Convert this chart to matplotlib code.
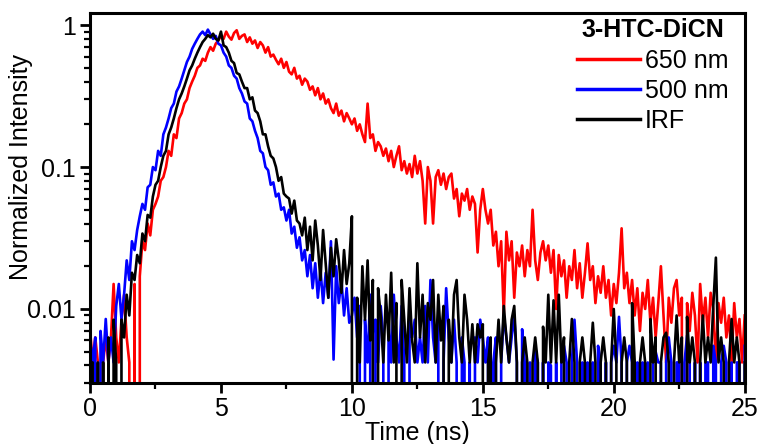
import numpy as np
import matplotlib
matplotlib.use("Agg")
import matplotlib.pyplot as plt
from matplotlib.ticker import FixedLocator, LogLocator, NullFormatter

# time channels (ns), 0.1 ns bins
time_ns = np.round(np.arange(251) * 0.1, 1)

# normalized decay traces (0 = zero counts)
irf = [
    0.0042, 0.0042, 0, 0.0042, 0, 0.0042, 0, 0.0063, 0, 0.0084,
    0.0042, 0, 0.0084, 0.0063, 0.0126, 0.009, 0.018, 0.016, 0.024, 0.021,
    0.034, 0.03, 0.046, 0.044, 0.062, 0.075, 0.08, 0.1, 0.12, 0.13,
    0.17, 0.19, 0.22, 0.26, 0.3, 0.33, 0.37, 0.42, 0.48, 0.52,
    0.58, 0.64, 0.7, 0.76, 0.8, 0.85, 0.82, 0.87, 0.8, 0.78,
    0.9, 0.72, 0.7, 0.64, 0.56, 0.54, 0.46, 0.45, 0.4, 0.36,
    0.36, 0.3, 0.31, 0.25, 0.24, 0.21, 0.17, 0.17, 0.14, 0.12,
    0.115, 0.1, 0.08, 0.085, 0.065, 0.062, 0.06, 0.047, 0.058, 0.042,
    0.04, 0.033, 0.044, 0.026, 0.038, 0.022, 0.042, 0.028, 0.016, 0.036,
    0.021, 0.012, 0.027, 0.017, 0.031, 0.022, 0.013, 0.026, 0.015, 0.021,
    0.045, 0, 0.012, 0.0042, 0.02, 0.0084, 0.022, 0.006, 0.016, 0,
    0.014, 0.009, 0.0042, 0.0126, 0.006, 0.018, 0.0042, 0.011, 0, 0.016,
    0.0084, 0.0042, 0.014, 0.006, 0.0042, 0.021, 0.0063, 0.0126, 0.0042, 0.011,
    0.0084, 0.016, 0.0042, 0.0126, 0.006, 0.0105, 0, 0.0084, 0.0042, 0.0126,
    0.016, 0.0063, 0.0042, 0.0126, 0.0084, 0.0042, 0.0078, 0.0042, 0.0078, 0.0063,
    0.0078, 0, 0.0042, 0.0063, 0, 0.0042, 0.0084, 0.0042, 0.0105, 0.0063,
    0.0042, 0.0084, 0.0105, 0.0042, 0, 0.0042, 0.0063, 0.0042, 0, 0.0042,
    0.0063, 0.0042, 0, 0.0075, 0.0042, 0.0126, 0.0042, 0.0115, 0.0042, 0.0126,
    0.0042, 0.0063, 0, 0.0042, 0.0085, 0.0042, 0, 0.0042, 0.0063, 0.0042,
    0, 0.0042, 0.008, 0.0042, 0, 0.0042, 0.0063, 0.0042, 0, 0.0042,
    0.01, 0.0042, 0, 0.0042, 0.0063, 0.0042, 0, 0.011, 0.0042, 0,
    0.0042, 0.0063, 0.0042, 0, 0.0085, 0.0042, 0.0063, 0, 0.0042, 0.0063,
    0.0068, 0.0042, 0, 0.0042, 0.009, 0.0042, 0.0063, 0, 0.0088, 0.0042,
    0.0063, 0.0042, 0, 0.0042, 0.009, 0.0042, 0.0063, 0.0042, 0.0105, 0.023,
    0.0042, 0.0063, 0.0042, 0, 0.0042, 0.0085, 0.0042, 0.0063, 0.0042, 0,
    0.0042,
]

em_500 = [
    0.0063, 0.0042, 0.0063, 0, 0.007, 0.0042, 0.0085, 0.0042, 0.0063, 0.0042,
    0.0105, 0.015, 0.0085, 0.0126, 0.022, 0.016, 0.03, 0.026, 0.036, 0.045,
    0.055, 0.05, 0.072, 0.075, 0.1, 0.095, 0.13, 0.12, 0.17, 0.19,
    0.22, 0.26, 0.28, 0.34, 0.37, 0.42, 0.48, 0.55, 0.6, 0.68,
    0.74, 0.8, 0.86, 0.9, 0.85, 0.93, 0.86, 0.8, 0.84, 0.74,
    0.72, 0.64, 0.6, 0.52, 0.5, 0.44, 0.42, 0.36, 0.33, 0.29,
    0.28, 0.22, 0.21, 0.18, 0.16, 0.13, 0.125, 0.1, 0.095, 0.075,
    0.078, 0.062, 0.065, 0.05, 0.052, 0.042, 0.05, 0.034, 0.038, 0.027,
    0.032, 0.022, 0.026, 0.017, 0.024, 0.014, 0.021, 0.012, 0.019, 0.011,
    0.018, 0.012, 0.03, 0.0044, 0.02, 0.011, 0.016, 0.009, 0.014, 0.008,
    0.009, 0.012, 0.0063, 0.0105, 0, 0.0084, 0.0042, 0.0126, 0, 0.0084,
    0.0042, 0.0105, 0.0063, 0, 0.0084, 0.0042, 0.0126, 0.0063, 0.0042, 0.0105,
    0.0042, 0, 0.0084, 0.0063, 0.0084, 0.0042, 0.0063, 0.0042, 0.0105, 0.0042,
    0.016, 0.0063, 0.0042, 0.0084, 0, 0.0042, 0.014, 0.0063, 0.0042, 0.0084,
    0.0042, 0, 0.0063, 0.0042, 0, 0.0042, 0, 0.0063, 0.0042, 0.0084,
    0.0063, 0.0042, 0.0063, 0, 0.0042, 0.0063, 0, 0.0042, 0.009, 0.0063,
    0.0042, 0.0063, 0.009, 0.0042, 0, 0.0072, 0.0042, 0, 0.0042, 0,
    0.005, 0.0042, 0, 0.0042, 0, 0.0042, 0.004, 0, 0.0042, 0,
    0.0042, 0.0055, 0.0042, 0, 0.0042, 0.0084, 0.0042, 0, 0.0042, 0,
    0.0042, 0, 0.0042, 0, 0.0055, 0.0042, 0, 0.0042, 0, 0.0042,
    0.0055, 0.0042, 0.0088, 0.0042, 0, 0.0042, 0.0055, 0.0042, 0, 0.0042,
    0, 0.0042, 0, 0.0042, 0, 0.0042, 0.005, 0.0042, 0.0042, 0,
    0.0042, 0.0063, 0.0042, 0, 0.0042, 0.0042, 0, 0.0042, 0.0065, 0.0042,
    0, 0.0042, 0, 0.0042, 0, 0.0042, 0.0042, 0, 0.0055, 0.0042,
    0, 0.0042, 0.0055, 0.0042, 0, 0.0042, 0, 0.0042, 0.0042, 0,
    0.0055,
]

em_650 = [
    0.0072, 0.0042, 0.0063, 0.0042, 0, 0.0042, 0.0063, 0.0042, 0.0063, 0.015,
    0.0063, 0.0042, 0.0084, 0.0126, 0.0063, 0.0042, 0, 0.015, 0, 0.017,
    0.03, 0.026, 0.04, 0.033, 0.05, 0.055, 0.062, 0.08, 0.085, 0.1,
    0.13, 0.12, 0.17, 0.16, 0.22, 0.24, 0.28, 0.3, 0.36, 0.4,
    0.44, 0.5, 0.52, 0.58, 0.56, 0.64, 0.7, 0.66, 0.74, 0.78,
    0.84, 0.8, 0.9, 0.83, 0.79, 0.88, 0.92, 0.8, 0.84, 0.86,
    0.76, 0.82, 0.74, 0.78, 0.69, 0.76, 0.72, 0.64, 0.7, 0.6,
    0.62, 0.57, 0.53, 0.58, 0.5, 0.55, 0.47, 0.45, 0.5, 0.42,
    0.44, 0.38, 0.42, 0.4, 0.35, 0.37, 0.32, 0.36, 0.3, 0.33,
    0.28, 0.3, 0.26, 0.24, 0.28, 0.23, 0.25, 0.21, 0.24, 0.22,
    0.2, 0.22, 0.18, 0.2, 0.17, 0.15, 0.28, 0.16, 0.17, 0.13,
    0.15, 0.14, 0.12, 0.135, 0.11, 0.13, 0.1, 0.12, 0.14, 0.095,
    0.11, 0.09, 0.105, 0.085, 0.12, 0.09, 0.11, 0.08, 0.04, 0.1,
    0.08, 0.04, 0.085, 0.095, 0.075, 0.09, 0.07, 0.085, 0.09, 0.06,
    0.07, 0.045, 0.065, 0.058, 0.07, 0.05, 0.062, 0.055, 0.025, 0.05,
    0.07, 0.05, 0.04, 0.05, 0.028, 0.035, 0.02, 0.03, 0.009, 0.035,
    0.022, 0.03, 0.012, 0.025, 0.02, 0.028, 0.017, 0.026, 0.02, 0.05,
    0.022, 0.016, 0.025, 0.03, 0.022, 0.028, 0.018, 0.026, 0.01, 0.024,
    0.017, 0.022, 0.012, 0.02, 0.016, 0.026, 0.014, 0.021, 0.012, 0.018,
    0.029, 0.016, 0.02, 0.011, 0.017, 0.013, 0.02, 0.012, 0.016, 0.009,
    0.015, 0.011, 0.018, 0.037, 0.014, 0.018, 0.011, 0.016, 0.009, 0.014,
    0.007, 0.013, 0.01, 0.016, 0.008, 0.012, 0.0063, 0.011, 0.02, 0.009,
    0.0042, 0.012, 0.008, 0.014, 0.016, 0.009, 0.012, 0, 0.011, 0.007,
    0.013, 0.009, 0.0042, 0.015, 0.008, 0.012, 0.0063, 0.013, 0.01, 0.0042,
    0.011, 0.008, 0.012, 0.0063, 0.009, 0.0042, 0.011, 0.0063, 0.0085, 0.0042,
    0.009,
]

series = [
    ("650 nm", em_650, "#ff0000"),
    ("500 nm", em_500, "#0000ff"),
    ("IRF", irf, "#000000"),
]

plt.rcParams["font.family"] = ["Liberation Sans", "DejaVu Sans"]
plt.rcParams["font.size"] = 18

fig = plt.figure(figsize=(7.63, 4.44), dpi=100)
ax = fig.add_axes([0.118, 0.137, 0.858, 0.834])

for label, vals, col in series:
    ax.plot(time_ns, vals, color=col, lw=1.9, label=label)

ax.set_yscale("log", nonpositive="clip")
ax.set_xlim(0, 25)
ax.set_ylim(0.003, 1.22)

ax.xaxis.set_major_locator(FixedLocator([0, 5, 10, 15, 20, 25]))
ax.xaxis.set_minor_locator(FixedLocator([2.5, 7.5, 12.5, 17.5, 22.5]))
ax.yaxis.set_major_locator(FixedLocator([0.01, 0.1, 1]))
ax.set_yticklabels(["0.01", "0.1", "1"])
ax.yaxis.set_minor_locator(LogLocator(base=10, subs=np.arange(2, 10)))
ax.yaxis.set_minor_formatter(NullFormatter())

for s in ax.spines.values():
    s.set_linewidth(2.2)
ax.tick_params(which="major", direction="out", length=7, width=2, pad=3)
ax.tick_params(which="minor", direction="out", length=4, width=1.6)

ax.set_xlabel("Time (ns)", labelpad=0)
ax.set_ylabel("Normalized Intensity")
ax.yaxis.set_label_coords(-0.087, 0.584)

leg = ax.legend(loc="upper right", bbox_to_anchor=(0.975, 0.985), frameon=False,
                title="3-HTC-DiCN", handlelength=2.5, handletextpad=0.2,
                labelspacing=0.25, borderpad=0, borderaxespad=0, fontsize=18)
leg.get_title().set_fontweight("bold")
leg.get_title().set_fontsize(18)
for ln in leg.get_lines():
    ln.set_linewidth(2.5)

fig.savefig("out.png", dpi=100)
